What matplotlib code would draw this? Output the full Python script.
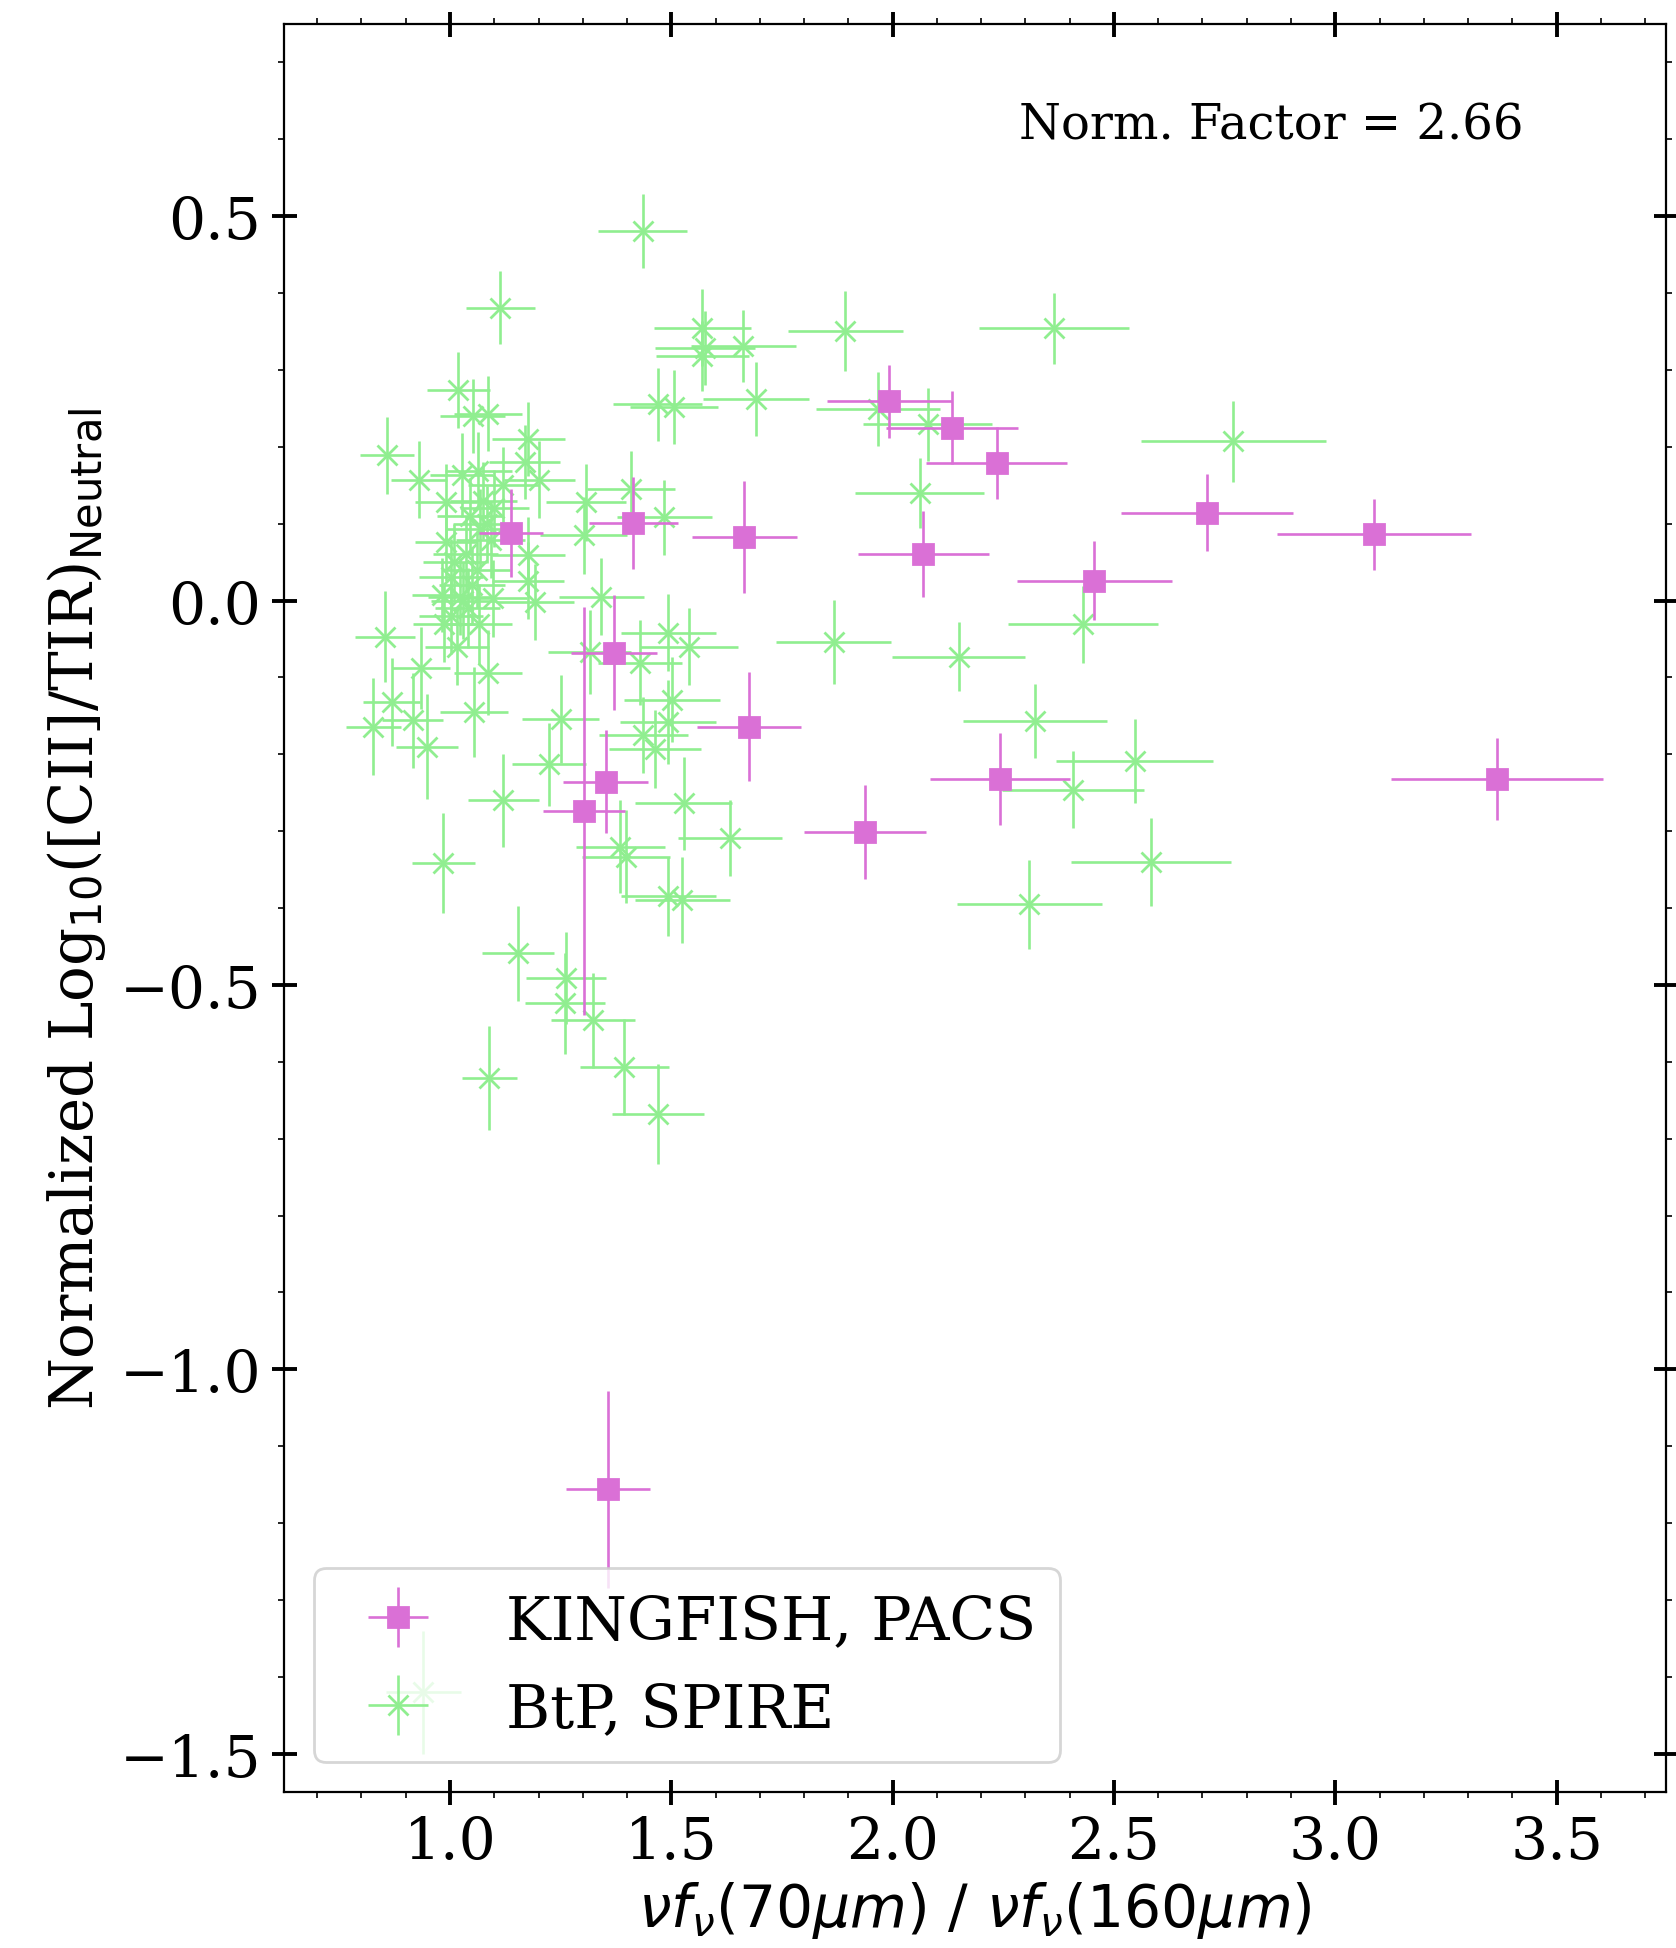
import numpy as np
import matplotlib
matplotlib.use("Agg")
import matplotlib.pyplot as plt
from matplotlib.ticker import MultipleLocator

# --- data: KINGFISH, PACS ---
kf_x = [1.992, 2.134, 2.235, 2.710, 3.087, 2.069, 1.665, 1.414, 1.138, 2.456,
        1.371, 1.675, 1.352, 1.303, 1.937, 2.243, 3.365, 1.356]
kf_y = [0.259, 0.225, 0.179, 0.114, 0.086, 0.061, 0.083, 0.101, 0.088, 0.026,
        -0.068, -0.164, -0.236, -0.274, -0.301, -0.232, -0.232, -1.156]
kf_xerr = [0.141, 0.149, 0.159, 0.194, 0.219, 0.148, 0.119, 0.100, 0.073, 0.175,
           0.097, 0.117, 0.096, 0.092, 0.138, 0.158, 0.239, 0.095]
kf_yerr = [0.047, 0.047, 0.047, 0.050, 0.046, 0.056, 0.073, 0.060, 0.057, 0.051,
           0.075, 0.071, 0.067, 0.265, 0.061, 0.060, 0.053, 0.128]

# --- data: BtP, SPIRE ---
btp_x = [1.435, 1.113, 1.893, 2.365, 1.570, 1.576, 1.570, 1.663, 1.469, 1.506,
         1.691, 1.966, 2.079, 2.770, 2.061, 1.019, 1.051, 1.085, 0.857, 0.930,
         1.177, 1.169, 1.202, 1.307, 1.409, 1.484, 1.302, 0.992, 1.026, 1.064,
         0.992, 1.068, 1.084, 1.092, 1.035, 1.003, 0.983, 1.023, 1.003, 0.987,
         1.015, 1.050, 1.040, 1.060, 1.100, 1.120, 1.045, 1.075, 1.010, 1.030,
         1.097, 1.065, 1.177, 1.176, 1.192, 1.342, 1.316, 1.086, 1.055, 0.853,
         0.934, 0.868, 0.827, 0.916, 0.949, 1.250, 1.224, 1.120, 0.985, 1.154,
         1.262, 1.260, 1.324, 1.394, 1.089, 1.470, 1.429, 1.493, 1.540, 1.501,
         1.493, 1.437, 1.463, 1.528, 1.632, 1.385, 1.398, 1.493, 1.525, 1.867,
         2.149, 2.430, 2.322, 2.547, 2.407, 2.584, 2.309, 0.940]
btp_y = [0.481, 0.381, 0.351, 0.354, 0.355, 0.328, 0.318, 0.331, 0.255, 0.252,
         0.262, 0.249, 0.229, 0.207, 0.140, 0.274, 0.240, 0.243, 0.189, 0.157,
         0.210, 0.180, 0.157, 0.128, 0.145, 0.108, 0.085, 0.128, 0.163, 0.169,
         0.076, 0.093, 0.099, 0.079, 0.060, 0.030, 0.007, 0.005, -0.020, -0.030,
         -0.060, 0.020, -0.010, 0.040, 0.120, 0.150, 0.110, 0.130, 0.050, 0.000,
         0.003, -0.030, 0.059, 0.026, -0.002, 0.005, -0.067, -0.094, -0.145, -0.047,
         -0.088, -0.132, -0.164, -0.156, -0.190, -0.154, -0.213, -0.260, -0.342, -0.459,
         -0.491, -0.524, -0.546, -0.607, -0.621, -0.668, -0.081, -0.042, -0.060, -0.129,
         -0.158, -0.175, -0.193, -0.264, -0.309, -0.320, -0.333, -0.385, -0.390, -0.054,
         -0.073, -0.031, -0.157, -0.209, -0.246, -0.340, -0.395, -1.420]
btp_xerr = [0.100, 0.078, 0.130, 0.170, 0.110, 0.112, 0.105, 0.118, 0.100, 0.100,
            0.120, 0.140, 0.146, 0.210, 0.146, 0.072, 0.074, 0.077, 0.061, 0.064,
            0.082, 0.080, 0.080, 0.090, 0.100, 0.107, 0.098, 0.070, 0.072, 0.075,
            0.070, 0.076, 0.077, 0.078, 0.074, 0.072, 0.070, 0.073, 0.072, 0.070,
            0.072, 0.075, 0.074, 0.075, 0.078, 0.080, 0.074, 0.076, 0.072, 0.073,
            0.078, 0.076, 0.082, 0.082, 0.087, 0.096, 0.094, 0.077, 0.077, 0.067,
            0.065, 0.064, 0.062, 0.069, 0.070, 0.087, 0.084, 0.080, 0.071, 0.081,
            0.090, 0.090, 0.095, 0.100, 0.062, 0.103, 0.095, 0.107, 0.110, 0.109,
            0.108, 0.100, 0.103, 0.109, 0.117, 0.100, 0.100, 0.107, 0.107, 0.130,
            0.150, 0.170, 0.163, 0.177, 0.160, 0.180, 0.163, 0.085]
btp_yerr = [0.048, 0.047, 0.052, 0.046, 0.050, 0.048, 0.045, 0.047, 0.048, 0.048,
            0.048, 0.048, 0.047, 0.053, 0.046, 0.049, 0.048, 0.049, 0.050, 0.050,
            0.048, 0.048, 0.050, 0.050, 0.050, 0.049, 0.050, 0.050, 0.055, 0.050,
            0.050, 0.052, 0.050, 0.050, 0.050, 0.050, 0.048, 0.050, 0.050, 0.050,
            0.050, 0.050, 0.052, 0.050, 0.050, 0.050, 0.050, 0.050, 0.050, 0.050,
            0.050, 0.052, 0.050, 0.050, 0.050, 0.050, 0.055, 0.055, 0.058, 0.059,
            0.053, 0.057, 0.063, 0.062, 0.068, 0.057, 0.054, 0.060, 0.065, 0.062,
            0.060, 0.066, 0.062, 0.062, 0.068, 0.065, 0.055, 0.050, 0.050, 0.055,
            0.055, 0.050, 0.051, 0.060, 0.050, 0.060, 0.060, 0.051, 0.056, 0.055,
            0.045, 0.050, 0.048, 0.055, 0.050, 0.057, 0.058, 0.080]

norm_factor = 2.66

# --- plotting ---
plt.rcParams['font.family'] = 'serif'
plt.rcParams['font.serif'] = ['DejaVu Serif']
plt.rcParams['mathtext.fontset'] = 'dejavusans'

fig = plt.figure(figsize=(8.38, 9.745), dpi=200)
ax = fig.add_axes([0.1692, 0.0800, 0.8248, 0.9072])

h_btp = ax.errorbar(btp_x, btp_y, xerr=btp_xerr, yerr=btp_yerr, fmt='x',
                    color='lightgreen', ms=7, mew=1.0, elinewidth=0.95,
                    capsize=0, label='BtP, SPIRE', zorder=2)
h_kf = ax.errorbar(kf_x, kf_y, xerr=kf_xerr, yerr=kf_yerr, fmt='s',
                   color='orchid', ms=7.5, elinewidth=0.95,
                   capsize=0, label='KINGFISH, PACS', zorder=3)

ax.set_xlim(0.624, 3.747)
ax.set_ylim(-1.55, 0.75)
ax.xaxis.set_major_locator(MultipleLocator(0.5))
ax.xaxis.set_minor_locator(MultipleLocator(0.1))
ax.yaxis.set_major_locator(MultipleLocator(0.5))
ax.yaxis.set_minor_locator(MultipleLocator(0.1))
ax.tick_params(which='major', direction='inout', length=9, width=1.4,
               top=True, right=True, labelsize=21)
ax.tick_params(which='minor', direction='out', length=2, width=0.6,
               top=True, right=True)

ax.set_xlabel(r'$\nu f_{\nu}(70\mu m)$ / $\nu f_{\nu}(160\mu m)$', fontsize=21,
              family='DejaVu Sans', labelpad=3)
ax.set_ylabel(r'Normalized Log$_{10}$([CII]/TIR)$_{\rm Neutral}$', fontsize=21.4)

ax.text(0.897, 0.943, 'Norm. Factor = %.2f' % norm_factor, transform=ax.transAxes,
        ha='right', va='center', fontsize=17.3)

ax.legend(handles=[h_kf, h_btp], loc='lower left', fontsize=21.6)

fig.savefig('out.png', dpi=200)
